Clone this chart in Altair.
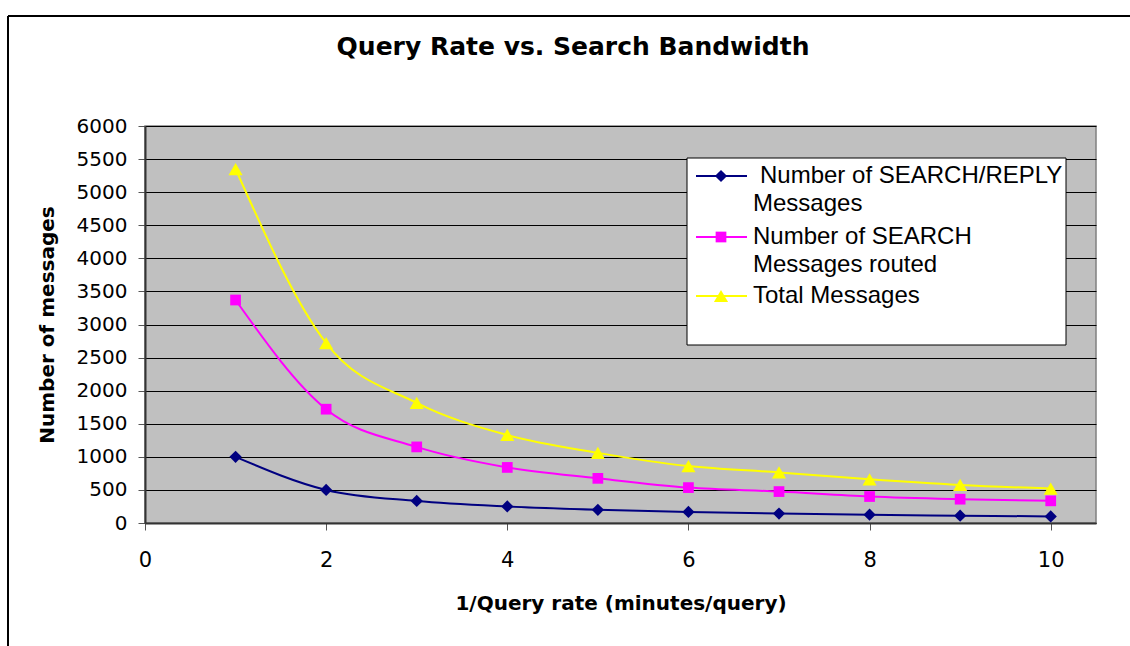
import altair as alt
import pandas as pd

# 1/query rate in minutes per query
minutes_per_query = [1, 2, 3, 4, 5, 6, 7, 8, 9, 10]

# message counts per series
search_reply = [1000, 500, 333, 250, 200, 167, 143, 125, 111, 100]
search_routed = [3370, 1720, 1150, 840, 675, 535, 475, 400, 360, 335]
total_messages = [5350, 2720, 1815, 1330, 1060, 860, 765, 660, 575, 520]

series_names = [
    "Number of SEARCH/REPLY Messages",
    "Number of SEARCH Messages routed",
    "Total Messages",
]
series_colors = ["#000080", "#FF00FF", "#FFFF00"]
series_shapes = ["diamond", "square", "triangle-up"]
series_sizes = [150, 115, 200]
legend_lines = [
    ["Number of SEARCH/REPLY", "Messages"],
    ["Number of SEARCH", "Messages routed"],
    ["Total Messages"],
]
# small indent of the first legend line, as in the original layout
legend_indent = [[7, 0], [0, 0], [0]]

y_ticks = list(range(0, 6001, 500))
x_ticks = [0, 2, 4, 6, 8, 10]

rows = []
for name, values in zip(series_names, [search_reply, search_routed, total_messages]):
    for x, v in zip(minutes_per_query, values):
        rows.append({"x": x, "value": v, "series": name})
df = pd.DataFrame(rows)

W, H = 951, 397
LEFT, TOP = 145, 126

x_axis = alt.Axis(
    values=x_ticks, format="d", grid=False, labelFlush=False,
    domainColor="#333333", domainWidth=2,
    tickColor="#555555", tickSize=7, tickWidth=1,
    labelFont="DejaVu Sans", labelFontSize=21, labelColor="black", labelPadding=19,
    title="1/Query rate (minutes/query)", titleFont="DejaVu Sans",
    titleFontWeight="bold", titleFontSize=20, titleColor="black",
    titleY=80, titleBaseline="middle",
)
y_axis = alt.Axis(
    values=y_ticks, format="d", grid=True, gridColor="black", gridWidth=1,
    domainColor="#333333", domainWidth=2,
    tickColor="#555555", tickSize=7, tickWidth=1,
    labelFont="DejaVu Sans", labelFontSize=20, labelColor="black", labelPadding=11,
    title="Number of messages", titleFont="DejaVu Sans",
    titleFontWeight="bold", titleFontSize=20, titleColor="black",
    titleX=-98, titleBaseline="middle",
)

color_scale = alt.Scale(domain=series_names, range=series_colors)
shape_scale = alt.Scale(domain=series_names, range=series_shapes)

base = alt.Chart(df).encode(
    x=alt.X("x:Q", scale=alt.Scale(domain=[0, 10.5], nice=False, zero=False), axis=x_axis),
    y=alt.Y("value:Q", scale=alt.Scale(domain=[0, 6000], nice=False), axis=y_axis),
    color=alt.Color("series:N", scale=color_scale, legend=None),
)

series_layers = []
for name, size in zip(series_names, series_sizes):
    sub = base.transform_filter(alt.datum.series == name)
    series_layers.append(sub.mark_line(interpolate="monotone", strokeWidth=2))
    series_layers.append(
        sub.mark_point(filled=True, opacity=1, size=size, strokeWidth=0).encode(
            shape=alt.Shape("series:N", scale=shape_scale, legend=None)
        )
    )

one = alt.Data(values=[{"k": 0}])

# chart title
title = alt.Chart(one).mark_text(
    font="DejaVu Sans", fontWeight="bold", fontSize=25, color="black",
    align="center", baseline="middle",
).encode(x=alt.value(573 - LEFT), y=alt.value(47 - TOP), text=alt.value("Query Rate vs. Search Bandwidth"))

# outer chart-area frame (left and top edges)
frame_left = alt.Chart(one).mark_rule(color="black", strokeWidth=2).encode(
    x=alt.value(8 - LEFT), y=alt.value(16 - TOP), y2=alt.value(646 - TOP)
)
frame_top = alt.Chart(one).mark_rule(color="black", strokeWidth=2).encode(
    x=alt.value(8 - LEFT), x2=alt.value(1130 - LEFT), y=alt.value(16 - TOP)
)

# legend box
lg_x0, lg_x1, lg_y0, lg_y1 = 687 - LEFT, 1066 - LEFT, 158 - TOP, 345 - TOP
legend_box = alt.Chart(one).mark_rect(fill="white", stroke="black", strokeWidth=1).encode(
    x=alt.value(lg_x0), x2=alt.value(lg_x1), y=alt.value(lg_y0), y2=alt.value(lg_y1)
)

legend_layers = [legend_box]
row_y = [176 - TOP, 237 - TOP, 296 - TOP]
line_gap = 28
sym_x0, sym_x1, sym_c = 696 - LEFT, 747 - LEFT, 721 - LEFT
text_x = 753 - LEFT
for ry, color, shape, size, lines, indents in zip(
    row_y, series_colors, series_shapes, series_sizes, legend_lines, legend_indent
):
    legend_layers.append(
        alt.Chart(one).mark_rule(color=color, strokeWidth=2).encode(
            x=alt.value(sym_x0), x2=alt.value(sym_x1), y=alt.value(ry)
        )
    )
    legend_layers.append(
        alt.Chart(one).mark_point(
            filled=True, opacity=1, size=size, strokeWidth=0, color=color, shape=shape
        ).encode(x=alt.value(sym_c), y=alt.value(ry))
    )
    for i, (txt, ind) in enumerate(zip(lines, indents)):
        legend_layers.append(
            alt.Chart(one).mark_text(
                font="Liberation Sans", fontSize=24, color="black", align="left", baseline="middle"
            ).encode(x=alt.value(text_x + ind), y=alt.value(ry + i * line_gap), text=alt.value(txt))
        )

chart = alt.layer(
    *series_layers, *legend_layers, title, frame_left, frame_top
).properties(
    width=W, height=H,
    autosize=alt.AutoSizeParams(type="none"),
    padding={"left": LEFT, "top": TOP, "right": 1130 - LEFT - W, "bottom": 646 - TOP - H},
    background="white",
).configure_view(
    fill="#C0C0C0", stroke="#808080", strokeWidth=1.5
)

chart.save("out.html", embed_options={"renderer": "svg", "actions": False})
